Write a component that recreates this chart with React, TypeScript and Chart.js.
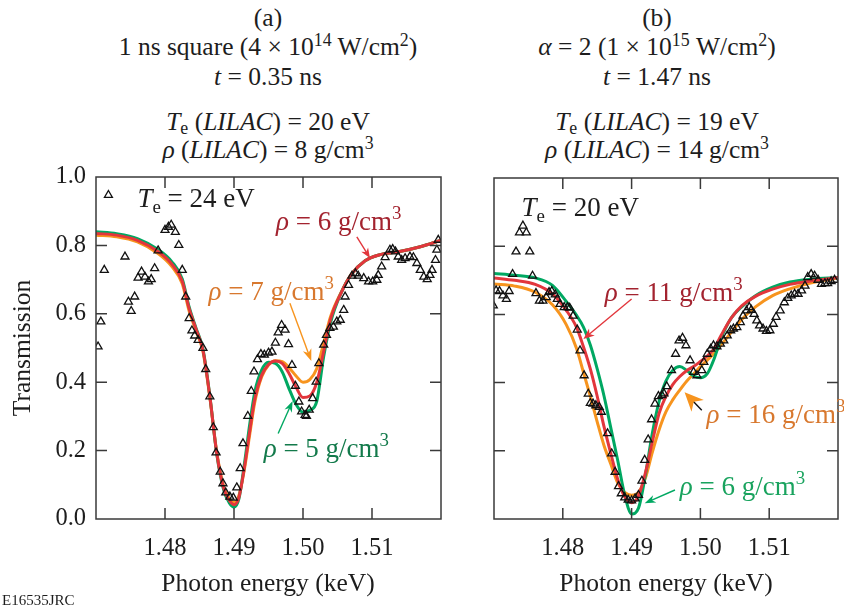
import React, { useEffect, useRef } from "react";
import { Chart, registerables } from "chart.js";
Chart.register(...registerables);

// ---------- axes ----------
const X_MIN = 1.47;
const X_MAX = 1.52;
const xTickValues = [1.48, 1.49, 1.5, 1.51];
const yTickValues = [0, 0.2, 0.4, 0.6, 0.8, 1.0];

// ---------- panel (a): experiment ----------
const aExpX = [1.4703, 1.4707, 1.4712, 1.4718, 1.4742, 1.4747, 1.4751, 1.4756, 1.4761, 1.4766, 1.4771, 1.4776, 1.478, 1.4785, 1.479, 1.48, 1.4805, 1.4809, 1.4815, 1.482, 1.4825, 1.483, 1.4835, 1.4839, 1.4843, 1.4848, 1.4855, 1.4859, 1.4865, 1.487, 1.4874, 1.488, 1.4884, 1.4888, 1.4894, 1.4899, 1.4904, 1.4909, 1.4913, 1.492, 1.4925, 1.4929, 1.4934, 1.4939, 1.4944, 1.495, 1.4955, 1.496, 1.4964, 1.4969, 1.4974, 1.4979, 1.4984, 1.4989, 1.4994, 1.4998, 1.5003, 1.5005, 1.5009, 1.5014, 1.5019, 1.5023, 1.503, 1.5034, 1.5039, 1.5044, 1.5049, 1.5054, 1.5059, 1.5061, 1.5066, 1.5071, 1.5076, 1.508, 1.5088, 1.5095, 1.5101, 1.5107, 1.5109, 1.5114, 1.5119, 1.5126, 1.513, 1.5134, 1.5138, 1.5143, 1.5148, 1.5155, 1.516, 1.5165, 1.517, 1.5175, 1.518, 1.5184, 1.5187, 1.5192, 1.5194, 1.5196];
const aExpY = [0.504, 0.577, 0.728, 0.947, 0.767, 0.635, 0.608, 0.65, 0.705, 0.723, 0.708, 0.694, 0.701, 0.733, 0.785, 0.845, 0.854, 0.86, 0.839, 0.801, 0.728, 0.65, 0.587, 0.551, 0.536, 0.523, 0.5, 0.438, 0.358, 0.268, 0.194, 0.138, 0.104, 0.077, 0.065, 0.062, 0.092, 0.148, 0.221, 0.301, 0.374, 0.431, 0.467, 0.482, 0.48, 0.486, 0.489, 0.515, 0.545, 0.567, 0.553, 0.511, 0.45, 0.389, 0.343, 0.314, 0.304, 0.301, 0.319, 0.353, 0.401, 0.455, 0.509, 0.538, 0.558, 0.562, 0.577, 0.582, 0.611, 0.65, 0.684, 0.711, 0.718, 0.711, 0.704, 0.694, 0.694, 0.699, 0.713, 0.738, 0.765, 0.787, 0.789, 0.782, 0.767, 0.757, 0.762, 0.767, 0.765, 0.748, 0.728, 0.708, 0.701, 0.713, 0.728, 0.757, 0.787, 0.816];

// ---------- panel (a): models ----------
const aModelX = [1.47, 1.473, 1.476, 1.479, 1.481, 1.4825, 1.4835, 1.4845, 1.4855, 1.4865, 1.4875, 1.4885, 1.4893, 1.49, 1.4907, 1.4915, 1.4923, 1.493, 1.494, 1.495, 1.496, 1.497, 1.498, 1.499, 1.5, 1.501, 1.502, 1.503, 1.504, 1.5055, 1.507, 1.509, 1.511, 1.514, 1.517, 1.52];
const aRho5 = [0.84, 0.834, 0.82, 0.788, 0.752, 0.702, 0.62, 0.558, 0.497, 0.36, 0.19, 0.085, 0.048, 0.035, 0.058, 0.16, 0.28, 0.37, 0.435, 0.458, 0.455, 0.43, 0.38, 0.335, 0.312, 0.318, 0.345, 0.475, 0.575, 0.66, 0.715, 0.755, 0.772, 0.782, 0.796, 0.815];
const aRho6 = [0.835, 0.83, 0.815, 0.782, 0.745, 0.695, 0.615, 0.555, 0.494, 0.358, 0.192, 0.09, 0.055, 0.042, 0.062, 0.15, 0.26, 0.35, 0.42, 0.452, 0.462, 0.455, 0.425, 0.385, 0.355, 0.36, 0.4, 0.49, 0.585, 0.66, 0.715, 0.755, 0.772, 0.782, 0.796, 0.815];
const aRho7 = [0.83, 0.825, 0.81, 0.776, 0.738, 0.688, 0.608, 0.55, 0.49, 0.355, 0.195, 0.095, 0.06, 0.048, 0.068, 0.145, 0.25, 0.34, 0.415, 0.45, 0.463, 0.46, 0.442, 0.418, 0.4, 0.408, 0.44, 0.515, 0.592, 0.662, 0.715, 0.755, 0.772, 0.782, 0.796, 0.815];

// ---------- panel (b): experiment ----------
const bExpX = [1.4699, 1.4703, 1.4708, 1.4713, 1.4718, 1.4722, 1.4727, 1.4732, 1.4737, 1.4742, 1.4747, 1.4752, 1.4756, 1.4761, 1.4766, 1.4771, 1.4776, 1.478, 1.4784, 1.4789, 1.4792, 1.4796, 1.4802, 1.4807, 1.481, 1.4815, 1.4821, 1.4825, 1.4831, 1.4837, 1.484, 1.4844, 1.4848, 1.4853, 1.4856, 1.4865, 1.4871, 1.4876, 1.4881, 1.4885, 1.489, 1.4895, 1.49, 1.4905, 1.491, 1.4915, 1.4919, 1.4924, 1.4929, 1.4934, 1.4939, 1.4944, 1.4947, 1.4951, 1.4958, 1.4964, 1.4969, 1.4974, 1.4979, 1.4985, 1.499, 1.4995, 1.5002, 1.5005, 1.501, 1.5015, 1.5019, 1.5024, 1.5029, 1.5034, 1.5039, 1.5044, 1.5048, 1.5053, 1.5058, 1.5062, 1.5067, 1.5071, 1.5074, 1.5078, 1.5082, 1.5086, 1.5091, 1.5096, 1.5101, 1.5106, 1.511, 1.5116, 1.5122, 1.5127, 1.5132, 1.5137, 1.5142, 1.5147, 1.5152, 1.5156, 1.5161, 1.5166, 1.5171, 1.5176, 1.5181, 1.5185, 1.519, 1.5195];
const bExpY = [0.626, 0.67, 0.668, 0.655, 0.645, 0.668, 0.718, 0.784, 0.84, 0.86, 0.84, 0.784, 0.713, 0.662, 0.64, 0.64, 0.65, 0.665, 0.668, 0.658, 0.645, 0.63, 0.621, 0.621, 0.619, 0.596, 0.555, 0.494, 0.421, 0.367, 0.34, 0.338, 0.333, 0.328, 0.314, 0.251, 0.192, 0.138, 0.096, 0.075, 0.063, 0.056, 0.054, 0.06, 0.07, 0.112, 0.173, 0.233, 0.292, 0.338, 0.36, 0.363, 0.368, 0.389, 0.436, 0.484, 0.523, 0.531, 0.509, 0.465, 0.431, 0.421, 0.436, 0.46, 0.484, 0.499, 0.509, 0.506, 0.514, 0.523, 0.538, 0.553, 0.558, 0.562, 0.577, 0.596, 0.611, 0.621, 0.613, 0.601, 0.582, 0.567, 0.558, 0.551, 0.553, 0.572, 0.592, 0.611, 0.635, 0.648, 0.655, 0.66, 0.66, 0.67, 0.684, 0.709, 0.718, 0.713, 0.701, 0.689, 0.691, 0.691, 0.697, 0.701];

// ---------- panel (b): models ----------
const bModelX = [1.47, 1.473, 1.476, 1.4785, 1.4805, 1.482, 1.483, 1.484, 1.485, 1.486, 1.487, 1.488, 1.489, 1.49, 1.491, 1.492, 1.493, 1.494, 1.495, 1.496, 1.497, 1.498, 1.499, 1.5, 1.501, 1.502, 1.503, 1.5045, 1.506, 1.508, 1.5105, 1.513, 1.516, 1.52];
const bRho6 = [0.72, 0.715, 0.707, 0.685, 0.638, 0.597, 0.563, 0.51, 0.44, 0.36, 0.265, 0.17, 0.07, 0.015, 0.032, 0.128, 0.25, 0.345, 0.405, 0.436, 0.447, 0.436, 0.42, 0.414, 0.426, 0.47, 0.53, 0.59, 0.622, 0.655, 0.68, 0.695, 0.703, 0.708];
const bRho11 = [0.707, 0.7, 0.688, 0.66, 0.612, 0.562, 0.505, 0.44, 0.36, 0.27, 0.19, 0.115, 0.065, 0.048, 0.068, 0.135, 0.225, 0.31, 0.36, 0.395, 0.418, 0.435, 0.447, 0.462, 0.478, 0.5, 0.538, 0.59, 0.625, 0.653, 0.674, 0.688, 0.698, 0.708];
const bRho16 = [0.689, 0.683, 0.665, 0.628, 0.57, 0.5, 0.43, 0.36, 0.285, 0.215, 0.16, 0.105, 0.078, 0.07, 0.078, 0.12, 0.195, 0.262, 0.315, 0.35, 0.378, 0.404, 0.425, 0.447, 0.466, 0.486, 0.51, 0.548, 0.585, 0.622, 0.655, 0.675, 0.692, 0.707];

// ---------- styles ----------
const FONT = '"Liberation Serif", "Times New Roman", serif';
const INK = "#1d1d1d";
const FRAME = "#3a3a3a";
const GREEN = "#00A862";
const RED = "#E2363C";
const ORANGE = "#F7941E";
const RED_TXT = "#A3232F";
const ORANGE_TXT = "#D8782E";
const GREEN_TXT_A = "#137A4B";
const GREEN_TXT_B = "#19A35E";

type Run = { t: string; it?: boolean; sup?: boolean; sub?: boolean };
type Note = {
  runs: Run[];
  x: number;
  y: number;
  color: string;
  arrow?: { x1: number; y1: number; x2: number; y2: number; line: string; head: string; len: number; w: number };
};

const rhoRuns = (v: string): Run[] => [{ t: "ρ", it: true }, { t: ` = ${v} g/cm` }, { t: "3", sup: true }];
const teRuns = (v: string): Run[] => [{ t: "T", it: true }, { t: "e", sub: true }, { t: ` = ${v} eV` }];

// annotation anchors in data coordinates (text baseline-left, arrow start/end)
const aNotes: Note[] = [
  { runs: teRuns("24"), x: 1.476, y: 0.911, color: INK },
  { runs: rhoRuns("6"), x: 1.4961, y: 0.845, color: RED_TXT, arrow: { x1: 1.5078, y1: 0.825, x2: 1.5097, y2: 0.763, line: RED, head: RED, len: 10, w: 8 } },
  { runs: rhoRuns("7"), x: 1.4863, y: 0.64, color: ORANGE_TXT, arrow: { x1: 1.4981, y1: 0.631, x2: 1.5012, y2: 0.462, line: ORANGE, head: ORANGE, len: 12, w: 9 } },
  { runs: rhoRuns("5"), x: 1.4943, y: 0.182, color: GREEN_TXT_A, arrow: { x1: 1.4964, y1: 0.25, x2: 1.4985, y2: 0.345, line: GREEN, head: GREEN, len: 11, w: 8 } },
];
const bNotes: Note[] = [
  { runs: teRuns("20"), x: 1.474, y: 0.889, color: INK },
  { runs: rhoRuns("11"), x: 1.4861, y: 0.64, color: RED_TXT, arrow: { x1: 1.49, y1: 0.645, x2: 1.483, y2: 0.528, line: RED, head: RED, len: 11, w: 9 } },
  { runs: rhoRuns("16"), x: 1.5009, y: 0.281, color: ORANGE_TXT, arrow: { x1: 1.5002, y1: 0.319, x2: 1.4977, y2: 0.372, line: "#111", head: ORANGE, len: 19, w: 17 } },
  { runs: rhoRuns("6"), x: 1.497, y: 0.07, color: GREEN_TXT_B, arrow: { x1: 1.4963, y1: 0.085, x2: 1.4919, y2: 0.046, line: GREEN, head: GREEN, len: 11, w: 8 } },
];

const NOTE_SIZE = 27;
const TICK_FONT = 24.5;
const TITLE_SIZE = 25.5;
const TICK = 11;

function drawRuns(ctx: CanvasRenderingContext2D, runs: Run[], x: number, y: number, size: number, color: string) {
  let cx = x;
  ctx.fillStyle = color;
  ctx.textBaseline = "alphabetic";
  ctx.textAlign = "left";
  for (const r of runs) {
    const s = r.sup || r.sub ? size * 0.7 : size;
    ctx.font = `${r.it ? "italic " : ""}${s}px ${FONT}`;
    const dy = r.sup ? -size * 0.4 : r.sub ? size * 0.22 : 0;
    ctx.fillText(r.t, cx, y + dy);
    cx += ctx.measureText(r.t).width;
  }
}

function drawArrow(ctx: CanvasRenderingContext2D, x1: number, y1: number, x2: number, y2: number, a: NonNullable<Note["arrow"]>) {
  const ang = Math.atan2(y2 - y1, x2 - x1);
  const c = Math.cos(ang), s = Math.sin(ang);
  ctx.strokeStyle = a.line;
  ctx.lineWidth = 1.4;
  ctx.beginPath();
  ctx.moveTo(x1, y1);
  ctx.lineTo(x2 - c * a.len * 0.6, y2 - s * a.len * 0.6);
  ctx.stroke();
  const bx = x2 - c * a.len, by = y2 - s * a.len;
  const nx = x2 - c * a.len * 0.7, ny = y2 - s * a.len * 0.7;
  ctx.fillStyle = a.head;
  ctx.beginPath();
  ctx.moveTo(x2, y2);
  ctx.lineTo(bx - s * a.w / 2, by + c * a.w / 2);
  ctx.lineTo(nx, ny);
  ctx.lineTo(bx + s * a.w / 2, by - c * a.w / 2);
  ctx.closePath();
  ctx.fill();
}

function notesPlugin(notes: Note[]) {
  return {
    id: "frameAndNotes",
    afterDatasetsDraw(chart: any) {
      const { ctx, chartArea } = chart;
      const { left, right, top, bottom } = chartArea;
      const xs = chart.scales.x, ys = chart.scales.y;
      ctx.save();
      ctx.strokeStyle = FRAME;
      ctx.lineWidth = 1.5;
      ctx.strokeRect(left, top, right - left, bottom - top);
      ctx.beginPath();
      for (const v of xTickValues) {
        const px = xs.getPixelForValue(v);
        ctx.moveTo(px, bottom);
        ctx.lineTo(px, bottom - TICK);
        ctx.moveTo(px, top);
        ctx.lineTo(px, top + TICK);
      }
      for (const v of yTickValues) {
        if (v <= 0 || v >= 1) continue;
        const py = ys.getPixelForValue(v);
        ctx.moveTo(left, py);
        ctx.lineTo(left + TICK, py);
        ctx.moveTo(right, py);
        ctx.lineTo(right - TICK, py);
      }
      ctx.stroke();
      for (const n of notes) {
        if (n.arrow) {
          const a = n.arrow;
          drawArrow(ctx, xs.getPixelForValue(a.x1), ys.getPixelForValue(a.y1), xs.getPixelForValue(a.x2), ys.getPixelForValue(a.y2), a);
        }
        drawRuns(ctx, n.runs, xs.getPixelForValue(n.x), ys.getPixelForValue(n.y), NOTE_SIZE, n.color);
      }
      ctx.restore();
    },
  };
}

const pts = (xs: number[], ys: number[]) => xs.map((x, i) => ({ x, y: ys[i] }));

function curve(xs: number[], ys: number[], color: string, order: number) {
  return {
    data: pts(xs, ys),
    showLine: true,
    borderColor: color,
    backgroundColor: color,
    borderWidth: 3,
    pointRadius: 0,
    cubicInterpolationMode: "monotone",
    order,
  };
}

function buildConfig(p: {
  expX: number[]; expY: number[]; modelX: number[];
  green: number[]; red: number[]; orange: number[];
  notes: Note[]; yLabels: boolean; yWidth: number; pad: { left: number; right: number; top: number };
}) {
  return {
    type: "scatter",
    data: {
      datasets: [
        {
          data: pts(p.expX, p.expY),
          pointStyle: "triangle",
          pointRadius: 4.6,
          borderColor: "#111",
          borderWidth: 1.3,
          backgroundColor: "rgba(0,0,0,0)",
          showLine: false,
          order: 0,
        },
        curve(p.modelX, p.red, RED, 1),
        curve(p.modelX, p.green, GREEN, 2),
        curve(p.modelX, p.orange, ORANGE, 3),
      ],
    },
    options: {
      responsive: false,
      animation: false,
      devicePixelRatio: 1,
      events: [],
      layout: { padding: { left: p.pad.left, right: p.pad.right, top: p.pad.top, bottom: 0 } },
      plugins: { legend: { display: false }, tooltip: { enabled: false } },
      scales: {
        x: {
          type: "linear",
          min: X_MIN,
          max: X_MAX,
          grid: { display: false, drawTicks: false },
          border: { display: false },
          afterBuildTicks: (s: any) => { s.ticks = xTickValues.map((v) => ({ value: v })); },
          afterFit: (s: any) => { s.height = 89; },
          ticks: {
            padding: 15,
            color: INK,
            maxRotation: 0,
            autoSkip: false,
            font: { family: FONT, size: TICK_FONT },
            callback: (v: any) => Number(v).toFixed(2),
          },
        },
        y: {
          type: "linear",
          min: 0,
          max: 1,
          grid: { display: false, drawTicks: false },
          border: { display: false },
          afterBuildTicks: (s: any) => { s.ticks = yTickValues.map((v) => ({ value: v })); },
          afterFit: (s: any) => { s.width = p.yWidth; },
          ticks: {
            display: p.yLabels,
            padding: 10,
            color: INK,
            font: { family: FONT, size: TICK_FONT },
            callback: (v: any) => Number(v).toFixed(1),
          },
        },
      },
    },
    plugins: [notesPlugin(p.notes)],
  };
}

function Panel({ left, width, cfg }: { left: number; width: number; cfg: () => any }) {
  const ref = useRef<HTMLCanvasElement>(null);
  useEffect(() => {
    const chart = new Chart(ref.current as HTMLCanvasElement, cfg());
    return () => chart.destroy();
  }, []);
  return <canvas ref={ref} width={width} height={608} style={{ position: "absolute", left, top: 0, width, height: 608 }} />;
}

const Sup = ({ children }: { children: any }) => (
  <span style={{ fontSize: "0.7em", verticalAlign: "0.5em", lineHeight: 0 }}>{children}</span>
);
const Sub = ({ children }: { children: any }) => (
  <span style={{ fontSize: "0.7em", verticalAlign: "-0.25em", lineHeight: 0 }}>{children}</span>
);

function TextLine({ cx, cy, size = TITLE_SIZE, children }: { cx: number; cy: number; size?: number; children: any }) {
  return (
    <div
      style={{
        position: "absolute",
        left: cx - 250,
        top: cy - 15,
        width: 500,
        height: 30,
        lineHeight: "30px",
        textAlign: "center",
        fontSize: size,
        fontFamily: FONT,
        color: INK,
        whiteSpace: "nowrap",
      }}
    >
      {children}
    </div>
  );
}

export default function App() {
  const cfgA = () =>
    buildConfig({
      expX: aExpX, expY: aExpY, modelX: aModelX,
      green: aRho5, red: aRho6, orange: aRho7,
      notes: aNotes, yLabels: true, yWidth: 96,
      pad: { left: 0, right: 19, top: 177 },
    });
  const cfgB = () =>
    buildConfig({
      expX: bExpX, expY: bExpY, modelX: bModelX,
      green: bRho6, red: bRho11, orange: bRho16,
      notes: bNotes, yLabels: false, yWidth: 0,
      pad: { left: 24, right: 6, top: 178 },
    });
  return (
    <div style={{ position: "fixed", left: 0, top: 0, width: 844, height: 608, background: "#fff", overflow: "hidden" }}>
      <TextLine cx={268} cy={18}>(a)</TextLine>
      <TextLine cx={268} cy={47}>
        1 ns square (4 × 10<Sup>14</Sup> W/cm<Sup>2</Sup>)
      </TextLine>
      <TextLine cx={268} cy={77}>
        <i>t</i> = 0.35 ns
      </TextLine>
      <TextLine cx={268} cy={122}>
        <i>T</i><Sub>e</Sub> (<i>LILAC</i>) = 20 eV
      </TextLine>
      <TextLine cx={268} cy={150}>
        <i>ρ</i> (<i>LILAC</i>) = 8 g/cm<Sup>3</Sup>
      </TextLine>

      <TextLine cx={657} cy={18}>(b)</TextLine>
      <TextLine cx={657} cy={47}>
        <i>α</i> = 2 (1 × 10<Sup>15</Sup> W/cm<Sup>2</Sup>)
      </TextLine>
      <TextLine cx={657} cy={77}>
        <i>t</i> = 1.47 ns
      </TextLine>
      <TextLine cx={657} cy={122}>
        <i>T</i><Sub>e</Sub> (<i>LILAC</i>) = 19 eV
      </TextLine>
      <TextLine cx={657} cy={150}>
        <i>ρ</i> (<i>LILAC</i>) = 14 g/cm<Sup>3</Sup>
      </TextLine>

      <Panel left={0} width={460} cfg={cfgA} />
      <Panel left={470} width={374} cfg={cfgB} />

      <div
        style={{
          position: "absolute",
          left: 22 - 120,
          top: 348 - 15,
          width: 240,
          height: 30,
          lineHeight: "30px",
          textAlign: "center",
          fontSize: TITLE_SIZE,
          fontFamily: FONT,
          color: INK,
          transform: "rotate(-90deg)",
          transformOrigin: "50% 50%",
        }}
      >
        Transmission
      </div>
      <TextLine cx={268} cy={583}>Photon energy (keV)</TextLine>
      <TextLine cx={666} cy={583}>Photon energy (keV)</TextLine>
      <div style={{ position: "absolute", left: 2, top: 592, fontSize: 15, fontFamily: FONT, color: INK, lineHeight: "16px" }}>
        E16535JRC
      </div>
    </div>
  );
}
